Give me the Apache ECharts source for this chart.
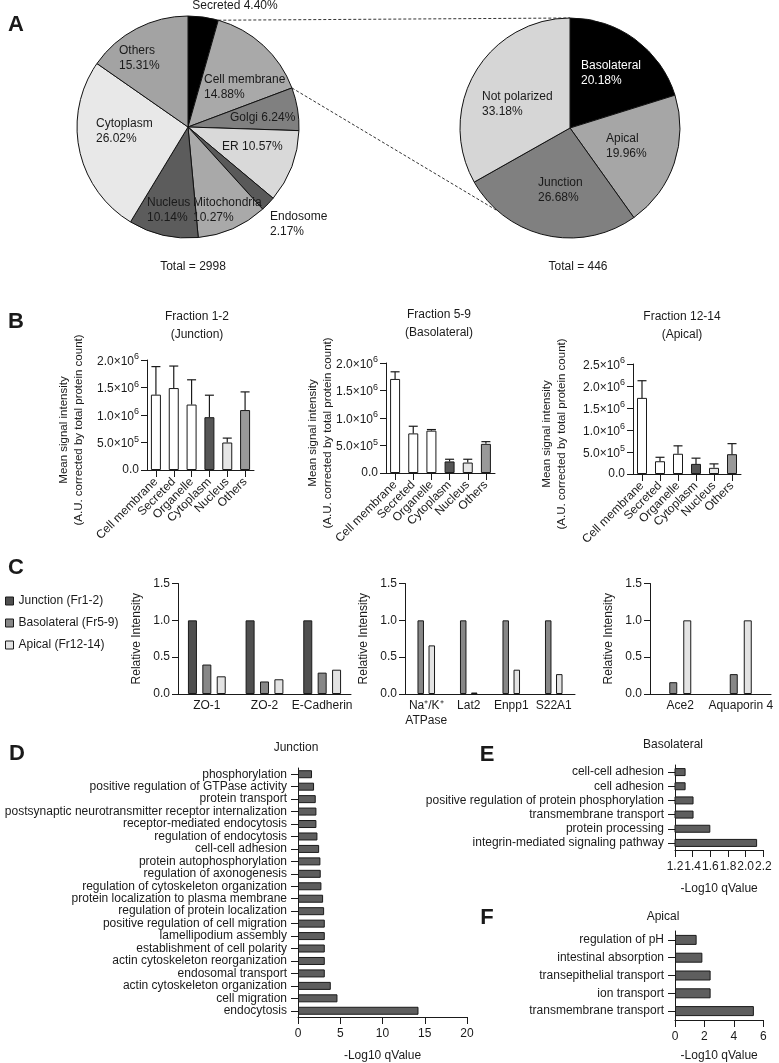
<!DOCTYPE html>
<html><head><meta charset="utf-8">
<script src="https://cdn.jsdelivr.net/npm/echarts@6/dist/echarts.min.js"></script>
<style>html,body{margin:0;padding:0;background:#fff}#c{width:779px;height:1063px}</style>
</head><body><div id="c"></div>
<script>
// ================= DATA =================
// Panel A
const subcellNames = ['Secreted','Cell membrane','Golgi','ER','Endosome','Mitochondria','Nucleus','Cytoplasm','Others'];
const subcellPct = [4.40,14.88,6.24,10.57,2.17,10.27,10.14,26.02,15.31];
const subcellTotal = 2998;
const polarNames = ['Basolateral','Apical','Junction','Not polarized'];
const polarPct = [20.18,19.96,26.68,33.18];
const polarTotal = 446;

// Panel B
const bCategories = ['Cell membrane','Secreted','Organelle','Cytoplasm','Nucleus','Others'];
const bJunctionMean = [1.37e6,1.49e6,1.19e6,0.96e6,0.50e6,1.09e6];
const bJunctionSD   = [0.51e6,0.40e6,0.45e6,0.40e6,0.08e6,0.33e6];
const bBasoMean     = [1.71e6,0.72e6,0.77e6,0.21e6,0.19e6,0.53e6];
const bBasoSD       = [0.13e6,0.13e6,0.02e6,0.04e6,0.06e6,0.04e6];
const bApicalMean   = [1.73e6,0.29e6,0.46e6,0.23e6,0.14e6,0.45e6];
const bApicalSD     = [0.39e6,0.09e6,0.18e6,0.13e6,0.09e6,0.24e6];
const bTitles = ['Fraction 1-2\n(Junction)','Fraction 5-9\n(Basolateral)','Fraction 12-14\n(Apical)'];

// Panel C
const cSeriesNames = ['Junction (Fr1-2)','Basolateral (Fr5-9)','Apical (Fr12-14)'];
const c1Markers = ['ZO-1','ZO-2','E-Cadherin'];
const c1Junction = [1.0,1.0,1.0];
const c1Baso     = [0.40,0.17,0.29];
const c1Apical   = [0.24,0.20,0.33];
const c2Markers = ['Na\u207A/K\u207A\nATPase','Lat2','Enpp1','S22A1'];
const c2Baso     = [1.0,1.0,1.0,1.0];
const c2Apical   = [0.66,0.02,0.33,0.27];
const c3Markers = ['Ace2','Aquaporin 4'];
const c3Baso     = [0.16,0.27];
const c3Apical   = [1.0,1.0];

// Panel D
const dTerms = ['phosphorylation','positive regulation of GTPase activity','protein transport',
  'postsynaptic neurotransmitter receptor internalization','receptor-mediated endocytosis',
  'regulation of endocytosis','cell-cell adhesion','protein autophosphorylation','regulation of axonogenesis',
  'regulation of cytoskeleton organization','protein localization to plasma membrane',
  'regulation of protein localization','positive regulation of cell migration','lamellipodium assembly',
  'establishment of cell polarity','actin cytoskeleton reorganization','endosomal transport',
  'actin cytoskeleton organization','cell migration','endocytosis'];
const dValues = [1.66,1.90,2.10,2.18,2.18,2.30,2.50,2.65,2.69,2.77,2.97,3.09,3.17,3.17,3.17,3.17,3.17,3.88,4.67,14.26];
// Panel E
const eTerms = ['cell-cell adhesion','cell adhesion','positive regulation of protein phosphorylation',
  'transmembrane transport','protein processing','integrin-mediated signaling pathway'];
const eValues = [1.32,1.32,1.41,1.41,1.60,2.13];
// Panel F
const fTerms = ['regulation of pH','intestinal absorption','transepithelial transport','ion transport','transmembrane transport'];
const fValues = [1.47,1.86,2.42,2.42,5.36];

// ================= STYLE / LAYOUT =================
const FONT = '"Liberation Sans", Arial, Helvetica, sans-serif';
const INK = '#1a1a1a';
const subcellColors = ['#000000','#a9a9a9','#808080','#d9d9d9','#595959','#a9a9a9','#5c5c5c','#e8e8e8','#a3a3a3'];
const polarColors = ['#000000','#a6a6a6','#808080','#d6d6d6'];
const polarLabelColors = ['#ffffff',INK,INK,INK];
const bColors = ['#ffffff','#ffffff','#ffffff','#555555','#e6e6e6','#999999'];
const cColors = ['#4f4f4f','#878787','#e3e3e3'];
const goColor = '#5e5e5e';
const oneLineLabels = ['Secreted','Golgi','ER'];

const PA = {cx:188, cy:127, r:111};
const PB = {cx:570, cy:128, r:110};
const leftPieLabelAt = [[47,-121,'center'],[16,-39.5,'left'],[42,-9,'left'],[34,20,'left'],[82,97,'left'],
  [5,83,'left'],[-41,83,'left'],[-92,4.5,'left'],[-69,-69,'left']];
const rightPieLabelAt = [[11,-54.5,'left'],[36,18.5,'left'],[-32,62,'left'],[-88,-23.5,'left']];
const connectorEndDeg = 221;

const grids = [
  {left:147, top:360, width:107, height:110},   // B1
  {left:386, top:363, width:109, height:110},   // B2
  {left:633, top:364, width:108, height:110},   // B3
  {left:178, top:583.5, width:173, height:110.5}, // C1
  {left:405, top:583.5, width:170, height:110.5}, // C2
  {left:650, top:583.5, width:121, height:110.5}, // C3
  {left:298, top:768, width:169, height:249},   // D
  {left:675, top:765, width:88.3, height:85},   // E
  {left:675, top:931, width:88.3, height:89}    // F
].map(g => Object.assign({outerBoundsMode:'none', containLabel:false}, g));

function merge(a, b){
  const out = Array.isArray(a) ? a.slice() : Object.assign({}, a);
  for (const k in b){
    if (b[k] && typeof b[k] === 'object' && !Array.isArray(b[k]) && a[k] && typeof a[k] === 'object' && !Array.isArray(a[k])) out[k] = merge(a[k], b[k]);
    else out[k] = b[k];
  }
  return out;
}
const axisBase = {
  axisLine:{show:true, onZero:false, lineStyle:{color:INK, width:1}},
  axisTick:{show:true, inside:false, length:6, lineStyle:{color:INK, width:1}},
  axisLabel:{color:INK, fontSize:12, fontFamily:FONT, hideOverlap:false, margin:8},
  splitLine:{show:false},
  nameTextStyle:{color:INK, fontSize:12, fontFamily:FONT},
  nameMoveOverlap:false
};
const ax = (o) => merge(axisBase, o);

function sciFmt(v){
  if (v === 0) return '0.0';
  const e = Math.floor(Math.log10(v) + 1e-9);
  const m = v / Math.pow(10, e);
  return '{b|' + m.toFixed(1) + '\u00D710}{s|' + e + '}';
}
const sciRich = {b:{fontSize:12, fontFamily:FONT, color:INK, lineHeight:15, verticalAlign:'bottom'},
                 s:{fontSize:9, fontFamily:FONT, color:INK, lineHeight:9, verticalAlign:'top'}};

const bYName = 'Mean signal intensity\n(A.U. corrected by total protein count)';
const bNameGaps = [61, 51, 64];
const bMax = [2e6, 2e6, 2.5e6];

const xAxes = [], yAxes = [];
for (let i = 0; i < 3; i++){
  xAxes.push(ax({type:'category', gridIndex:i, data:bCategories,
    axisTick:{alignWithLabel:true, length:7}, axisLabel:{rotate:45, interval:0, margin:10}}));
  yAxes.push(ax({type:'value', gridIndex:i, min:0, max:bMax[i], interval:5e5,
    axisLabel:{formatter:sciFmt, rich:sciRich, margin:8},
    name:bYName, nameLocation:'middle', nameRotate:90, nameGap:bNameGaps[i],
    nameTextStyle:{fontSize:11.5, lineHeight:15, padding:[0,30,0,0]}}));
}
[c1Markers, c2Markers, c3Markers].forEach((m, j) => {
  xAxes.push(ax({type:'category', gridIndex:3+j, data:m, axisTick:{show:false},
    axisLabel:{interval:0, margin:4, lineHeight:15}}));
  yAxes.push(ax({type:'value', gridIndex:3+j, min:0, max:1.5, interval:0.5,
    axisLabel:{formatter:v => v.toFixed(1), margin:8},
    name:'Relative Intensity', nameLocation:'middle', nameRotate:90, nameGap:35}));
});
const goX = [{min:0,max:20,interval:5,fmt:v=>String(v),gap:33},
             {min:1.2,max:2.2,interval:0.2,fmt:v=>v.toFixed(1),gap:33},
             {min:0,max:6,interval:2,fmt:v=>String(v),gap:30}];
[dTerms, eTerms, fTerms].forEach((terms, j) => {
  const g = goX[j];
  xAxes.push(ax({type:'value', gridIndex:6+j, min:g.min, max:g.max, interval:g.interval,
    axisTick:{length:7}, axisLabel:{formatter:g.fmt, margin:11, showMinLabel:true, showMaxLabel:true},
    name:'-Log10 qValue', nameLocation:'middle', nameGap:g.gap}));
  yAxes.push(ax({type:'category', gridIndex:6+j, data:terms, inverse:true,
    axisTick:{alignWithLabel:true, length:7}, axisLabel:{interval:0, margin:11}}));
});

// ---- series ----
const series = [];
function pieLabelFmt(p){
  const v = p.value.toFixed(2) + '%';
  return oneLineLabels.indexOf(p.name) >= 0 ? p.name + ' ' + v : p.name + '\n' + v;
}
function pieSeries(P, names, vals, colors, labelAt, labelColors){
  return {type:'pie', center:[P.cx, P.cy], radius:P.r, startAngle:90, clockwise:true,
    avoidLabelOverlap:false, silent:true, z:3,
    itemStyle:{borderColor:'#111', borderWidth:1},
    label:{show:true, position:'inside', formatter:pieLabelFmt, fontSize:12, lineHeight:15, color:INK, fontFamily:FONT},
    labelLine:{show:false},
    labelLayout:(p) => {const o = labelAt[p.dataIndex]; return {x:P.cx + o[0], y:P.cy + o[1], align:o[2], verticalAlign:'middle'};},
    emphasis:{disabled:true},
    data:names.map((n, i) => ({name:n, value:vals[i], itemStyle:{color:colors[i]},
      label:{color: labelColors ? labelColors[i] : INK}}))
  };
}
series.push(pieSeries(PA, subcellNames, subcellPct, subcellColors, leftPieLabelAt, null));
series.push(pieSeries(PB, polarNames, polarPct, polarColors, rightPieLabelAt, polarLabelColors));

function errSeries(gi, means, sds){
  return {type:'custom', xAxisIndex:gi, yAxisIndex:gi, z:4, silent:true,
    data:means.map((m, i) => [i, m, m + sds[i]]),
    encode:{x:0, y:1},
    renderItem:(params, api) => {
      const lo = api.coord([api.value(0), api.value(1)]);
      const hi = api.coord([api.value(0), api.value(2)]);
      const cap = 4.5;
      return {type:'group', children:[
        {type:'line', shape:{x1:lo[0], y1:lo[1], x2:hi[0], y2:hi[1]}, style:{stroke:INK, lineWidth:1.2}},
        {type:'line', shape:{x1:hi[0]-cap, y1:hi[1], x2:hi[0]+cap, y2:hi[1]}, style:{stroke:INK, lineWidth:1.2}}
      ]};
    }};
}
[[bJunctionMean,bJunctionSD],[bBasoMean,bBasoSD],[bApicalMean,bApicalSD]].forEach((d, i) => {
  series.push({type:'bar', xAxisIndex:i, yAxisIndex:i, barWidth:10, silent:true,
    itemStyle:{borderColor:INK, borderWidth:1},
    data:d[0].map((v, k) => ({value:v, itemStyle:{color:bColors[k]}}))});
  series.push(errSeries(i, d[0], d[1]));
});

const cBarStyle = (k) => ({color:cColors[k], borderColor:INK, borderWidth:1});
[c1Junction, c1Baso, c1Apical].forEach((vals, k) => {
  series.push({type:'bar', name:cSeriesNames[k], xAxisIndex:3, yAxisIndex:3, barWidth:9, barGap:'60%',
    silent:true, itemStyle:cBarStyle(k), data:vals});
});
[c2Baso, c2Apical].forEach((vals, k) => {
  series.push({type:'bar', name:cSeriesNames[k+1], xAxisIndex:4, yAxisIndex:4, barWidth:6.5, barGap:'70%',
    silent:true, itemStyle:cBarStyle(k+1), data:vals});
});
[c3Baso, c3Apical].forEach((vals, k) => {
  series.push({type:'bar', name:cSeriesNames[k+1], xAxisIndex:5, yAxisIndex:5, barWidth:8, barGap:'75%',
    silent:true, itemStyle:cBarStyle(k+1), data:vals});
});
const goBarW = [8, 8, 10];
[dValues, eValues, fValues].forEach((vals, j) => {
  series.push({type:'bar', xAxisIndex:6+j, yAxisIndex:6+j, barWidth:goBarW[j], silent:true, clip:true,
    itemStyle:{color:goColor, borderColor:INK, borderWidth:1}, data:vals});
});

// ---- texts ----
const T = (text, x, y, size, bold, align) => ({text, left:x, top:y, padding:0,
  textAlign:align || 'center', textVerticalAlign:'middle',
  textStyle:{fontSize:size, fontWeight:bold ? 'bold' : 'normal', fontFamily:FONT, color:INK, lineHeight:Math.round(size*1.5)}});
const titles = [
  T('A', 16, 25, 22, true), T('B', 16, 322, 22, true), T('C', 16, 568, 22, true),
  T('D', 17, 754, 22, true), T('E', 487, 755, 22, true), T('F', 487, 918, 22, true),
  T('Total = ' + subcellTotal, 193, 267, 12), T('Total = ' + polarTotal, 578, 267, 12),
  T(bTitles[0], 197, 326, 12), T(bTitles[1], 439, 324, 12), T(bTitles[2], 682, 326, 12),
  T('Junction', 296, 748, 12), T('Basolateral', 673, 745, 12), T('Apical', 663, 917, 12)
];

// ---- connector lines (computed from pie geometry) ----
function piePoint(P, deg){ const a = deg * Math.PI / 180; return [P.cx + P.r * Math.sin(a), P.cy - P.r * Math.cos(a)]; }
const secEnd = subcellPct[0] / 100 * 360;
const cmEnd = (subcellPct[0] + subcellPct[1]) / 100 * 360;
const l1a = piePoint(PA, secEnd), l1b = piePoint(PB, 0);
const l2a = piePoint(PA, cmEnd), l2b = piePoint(PB, connectorEndDeg);
const dash = {stroke:'#333', lineWidth:1, lineDash:[3,2]};

const option = {
  animation:false,
  textStyle:{fontFamily:FONT},
  title:titles,
  legend:{show:true, orient:'vertical', left:5, top:595, padding:0, itemWidth:8, itemHeight:8, itemGap:10,
    icon:'rect', selectedMode:false, data:cSeriesNames,
    itemStyle:{borderColor:INK, borderWidth:1},
    textStyle:{fontSize:12, fontFamily:FONT, color:INK, padding:[0,0,0,0]}},
  grid:grids, xAxis:xAxes, yAxis:yAxes, series:series,
  graphic:[
    {type:'line', z:1, shape:{x1:l1a[0], y1:l1a[1], x2:l1b[0], y2:l1b[1]}, style:dash, silent:true},
    {type:'line', z:1, shape:{x1:l2a[0], y1:l2a[1], x2:l2b[0], y2:l2b[1]}, style:dash, silent:true}
  ]
};
const chart = echarts.init(document.getElementById('c'), null, {renderer:'canvas', width:779, height:1063});
chart.setOption(option);
</script></body></html>
